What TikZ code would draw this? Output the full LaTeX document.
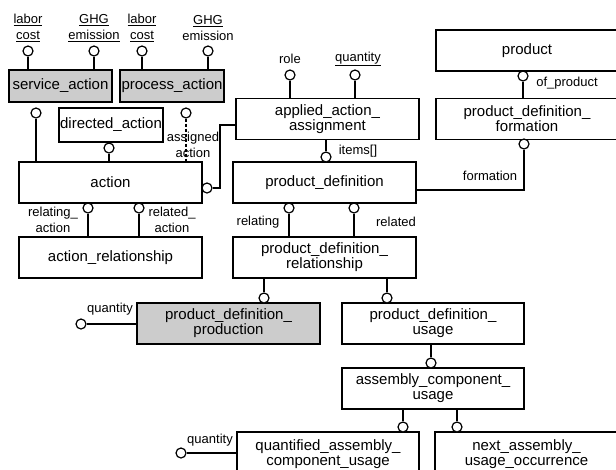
\documentclass[tikz,border=0pt]{standalone}
\usepackage{fontspec}
\setmainfont{Liberation Sans}
\usetikzlibrary{positioning}
\tikzset{
  ent/.style={draw, rectangle, line width=1.3pt, inner sep=0pt, minimum width=183pt, minimum height=41pt, align=center, font=\fontsize{15}{15}\selectfont},
  gent/.style={ent, fill=black!20},
  ring/.style={circle, draw, fill=white, line width=1.2pt, minimum size=10pt, inner sep=0pt},
  lbl/.style={align=center, inner sep=0pt, font=\fontsize{13}{15.5}\selectfont},
  sub/.style={line width=2pt},
  rel/.style={line width=1.2pt}
}

\begin{document}
\begin{tikzpicture}[x=1pt, y=-1pt]
   \clip (0,0) rectangle (616,469);
   % entities
   \node[gent, minimum width=103pt, minimum height=32pt] (service) at (60.5,86) {service\_action};
   \node[gent, minimum width=104pt, minimum height=32pt] (process) at (172,86) {process\_action};
   \node[ent, minimum width=104pt, minimum height=34pt] (directed) at (111,125) {directed\_action};
   \node[ent] (action) at (110.5,182.5) {action};
   \node[ent] (aaa) at (327.5,119) {applied\_action\_\\assignment};
   \node[ent] (pd) at (324.5,182.5) {product\_definition};
   \node[ent, minimum width=182pt] (product) at (527,50.5) {product};
   \node[ent, minimum width=182pt] (pdf) at (527,119) {product\_definition\_\\formation};
   \node[ent] (ar) at (110.5,257.5) {action\_relationship};
   \node[ent] (pdr) at (324.5,257.5) {product\_definition\_\\relationship};
   \node[gent] (ppd) at (228.5,323.5) {product\_definition\_\\production};
   \node[ent, minimum width=182pt] (pdu) at (433,323.5) {product\_definition\_\\usage};
   \node[ent, minimum width=182pt] (acu) at (433,388.5) {assembly\_component\_\\usage};
   \node[ent, minimum width=182pt, minimum height=45pt] (qacu) at (328,454.5) {quantified\_assembly\_\\component\_usage};
   \node[ent, minimum width=183pt, minimum height=45pt] (nauo) at (526.5,454.5) {next\_assembly\_\\usage\_occurrence};

   % attribute circles
   \begin{scope}[every node/.style={ring}]
    \node (sl) at (28,51) {};
    \node (sg) at (94,51) {};
    \node (pl) at (142,51) {};
    \node (pg) at (208,51) {};
    \node (ss) at (36,113) {};
    \node (ps) at (186,113) {};
    \node (ds) at (109,148) {};
    \node (ac) at (207,188) {};
    \node (rc) at (290,75) {};
    \node (qc) at (355,75) {};
    \node (ic) at (326,157) {};
    \node (oc) at (523,76) {};
    \node (fc) at (524,144) {};
    \node (rac) at (88,208) {};
    \node (rdc) at (139,208) {};
    \node (rgc) at (289,208) {};
    \node (rlc) at (354,208) {};
    \node (s1) at (264,298) {};
    \node (s2) at (387,298) {};
    \node (s3) at (431,363) {};
    \node (s4) at (403,427) {};
    \node (s5) at (457,427) {};
    \node (q1) at (81,324) {};
    \node (q2) at (181,453) {};
   \end{scope}

   % labels
   \begin{scope}[every node/.style={lbl}]
    \node (tsl) at (28,28) {\underline{labor}\\\underline{cost}};
    \node (tsg) at (94,28) {\underline{GHG}\\\underline{emission}};
    \node (tpl) at (142,28) {\underline{labor}\\\underline{cost}};
    \node (tpg) at (208,28) {\underline{GHG}\\emission};
    \node (tas) at (193,145) {assigned\\action};
    \node (trc) at (290,59) {role};
    \node (tqc) at (358,59) {\underline{quantity}};
    \node (tic) at (358,151) {items[]};
    \node (toc) at (567,83) {of\_product};
    \node (tfc) at (490,176) {formation};
    \node (trac) at (53,220) {relating\_\\action};
    \node (trdc) at (172,220) {related\_\\action};
    \node (trgc) at (258,222) {relating};
    \node (trlc) at (396,222) {related};
    \node (tq1) at (110,309) {quantity};
    \node (tq2) at (210,440) {quantity};
   \end{scope}

   % connectors
   \begin{scope}[rel]
    \draw (sl) -- (sl |- service.north);
    \draw (sg) -- (sg |- service.north);
    \draw (pl) -- (pl |- process.north);
    \draw (pg) -- (pg |- process.north);
    \draw[dash pattern=on 3pt off 2pt] (ps) -- (ps |- action.north);
    \draw (ac) -- ++(13,0) |- ([yshift=-6pt]aaa.west);
    \draw (rc) -- (rc |- aaa.north);
    \draw (qc) -- (qc |- aaa.north);
    \draw (aaa.south -| ic) -- (ic);
    \draw (oc) -- (oc |- pdf.north);
    \draw (fc) |- ([yshift=-7.5pt]pd.east);
    \draw (rac) -- (rac |- ar.north);
    \draw (rdc) -- (rdc |- ar.north);
    \draw (rgc) -- (rgc |- pdr.north);
    \draw (rlc) -- (rlc |- pdr.north);
    \draw (q1) -- (q1 -| ppd.west);
    \draw (q2) -- (q2 -| qacu.west);
   \end{scope}
   \begin{scope}[sub]
    \draw (ss) -- (ss |- action.north);
    \draw (ds) -- (ds |- action.north);
    \draw (pdr.south -| s1) -- (s1);
    \draw (pdr.south -| s2) -- (s2);
    \draw (pdu.south -| s3) -- (s3);
    \draw (acu.south -| s4) -- (s4);
    \draw (acu.south -| s5) -- (s5);
   \end{scope}
\end{tikzpicture}
\end{document}
